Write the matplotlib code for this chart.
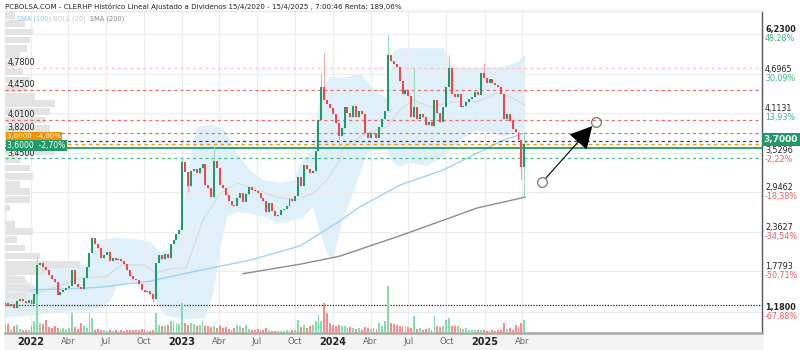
import numpy as np
import pandas as pd
import matplotlib
matplotlib.use("Agg")
import matplotlib.pyplot as plt
import matplotlib.dates as mdates
from matplotlib.patches import Rectangle

# weekly closes, Nov 2021 -> Apr 2025
first_open = 1.27
closes = [
    1.30, 1.26, 1.29, 1.24, 1.33, 1.37, 1.34, 1.31, 1.35, 1.29, 1.44,
    1.87, 1.90, 1.84, 1.79, 1.72, 1.66, 1.62, 1.42, 1.47, 1.50,
    1.53, 1.56, 1.80, 1.58, 1.55, 1.52, 1.68, 1.84, 2.05, 2.26,
    2.18, 2.12, 1.97, 2.02, 2.06, 1.93, 1.97, 1.94, 1.96, 1.93,
    1.88, 1.80, 1.70, 1.66, 1.64, 1.58, 1.50, 1.47, 1.48, 1.44,
    1.36, 1.90, 2.02, 1.96, 2.03, 1.97, 2.18, 2.24, 2.33, 2.38,
    3.39, 3.24, 3.04, 3.25, 3.28, 3.22, 3.30, 3.36, 3.05, 3.00,
    2.87, 3.40, 3.30, 3.05, 3.00, 2.90, 2.82, 2.76, 2.74, 2.86,
    2.93, 2.80, 2.92, 3.02, 2.98, 2.96, 2.93, 2.86, 2.82, 2.65,
    2.78, 2.66, 2.59, 2.61, 2.68, 2.70, 2.74, 2.85, 2.82, 2.88,
    3.17, 3.03, 3.35, 3.28, 3.22, 3.26, 3.55, 4.01, 4.50, 4.30,
    4.24, 4.18, 4.10, 3.96, 3.78, 3.89, 4.20, 4.12, 4.06, 4.22,
    4.05, 4.15, 4.10, 3.82, 3.75, 3.82, 3.80, 3.74, 3.90, 4.03,
    4.14, 4.97, 4.88, 4.84, 4.80, 4.58, 4.40, 4.45, 4.36, 4.06,
    4.20, 4.02, 4.10, 4.05, 3.94, 3.98, 3.92, 4.30, 4.12, 3.98,
    4.20, 4.50, 4.78, 4.40, 4.35, 4.40, 4.20, 4.22, 4.28, 4.32,
    4.35, 4.42, 4.38, 4.70, 4.63, 4.55, 4.62, 4.56, 4.52, 4.50,
    4.40, 4.02, 4.10, 4.00, 3.88, 3.84, 3.72, 3.31, 3.66,
]
volumes = [
    25, 28, 10, 22, 25, 12, 8, 10, 8, 20, 35,
    130, 30, 28, 38, 18, 15, 20, 15, 12, 15,
    10, 15, 60, 18, 12, 30, 20, 15, 60, 45,
    10, 12, 8, 10, 5, 8, 6, 10, 5, 8,
    6, 10, 8, 10, 8, 10, 12, 10, 8, 5,
    10, 60, 25, 22, 20, 25, 35, 35, 30, 28,
    90, 30, 25, 30, 28, 22, 25, 35, 20, 22,
    18, 20, 15, 20, 15, 18, 12, 10, 15, 25,
    22, 15, 25, 12, 10, 8, 12, 8, 10, 15,
    8, 5, 6, 5, 6, 5, 8, 6, 10, 8,
    40, 18, 25, 15, 20, 25, 35, 55, 35, 90,
    60, 30, 25, 20, 25, 22, 20, 15, 18, 15,
    12, 15, 10, 18, 15, 12, 15, 12, 30, 20,
    35, 140, 30, 28, 25, 20, 22, 20, 18, 15,
    50, 12, 15, 10, 12, 15, 10, 50, 20, 18,
    20, 40, 45, 20, 22, 20, 15, 12, 15, 10,
    8, 10, 8, 10, 8, 6, 8, 10, 6, 8,
    10, 30, 12, 15, 10, 25, 18, 30, 40,
]
# notable wicks (week index -> price)
wick_highs = {11: 1.98, 30: 2.28, 61: 3.46, 72: 3.64, 109: 4.70, 110: 5.00,
              132: 5.26, 141: 4.78, 153: 4.97, 165: 4.85, 179: 3.82}
wick_lows = {51: 1.32, 63: 2.95, 115: 3.62, 178: 3.12, 179: 2.87}

# bollinger (20)
boll_up_dates = ["2021-11-01", "2021-12-19", "2022-01-12", "2022-01-29", "2022-03-14",
                 "2022-05-13", "2022-06-18", "2022-07-24", "2022-09-11", "2022-10-17",
                 "2022-11-10", "2022-12-09", "2022-12-28", "2023-01-17", "2023-02-07",
                 "2023-03-11", "2023-04-11", "2023-05-15", "2023-06-15", "2023-07-17",
                 "2023-08-27", "2023-09-27", "2023-10-21", "2023-11-14", "2023-12-01",
                 "2023-12-25", "2024-01-26", "2024-03-07", "2024-04-17", "2024-05-11",
                 "2024-05-25", "2024-06-11", "2024-09-23", "2024-10-17", "2024-12-14",
                 "2025-02-15", "2025-03-21", "2025-04-09"]
boll_up = [1.79, 1.65, 1.56, 1.94, 1.88, 1.87, 2.24, 2.27, 2.25, 2.21,
           2.06, 2.13, 2.41, 3.27, 3.91, 3.94, 3.89, 3.52, 3.27, 3.12,
           3.08, 3.12, 3.42, 3.57, 4.41, 4.65, 4.63, 4.70, 4.41, 4.34,
           5.01, 5.07, 5.07, 4.79, 4.78, 4.79, 4.87, 4.97]
boll_low_dates = ["2021-11-01", "2021-12-31", "2022-03-14", "2022-05-25", "2022-07-12",
                  "2022-07-29", "2022-09-06", "2022-10-05", "2022-11-03", "2022-11-22",
                  "2023-01-09", "2023-02-27", "2023-03-18", "2023-04-04", "2023-04-21",
                  "2023-05-15", "2023-06-08", "2023-07-17", "2023-08-19", "2023-09-12",
                  "2023-10-21", "2023-11-14", "2023-12-01", "2023-12-17", "2024-01-01",
                  "2024-01-26", "2024-02-11", "2024-03-07", "2024-03-24", "2024-04-17",
                  "2024-05-11", "2024-05-25", "2024-06-11", "2024-07-05", "2024-08-15",
                  "2024-09-23", "2024-11-03", "2024-12-14", "2025-01-14", "2025-02-15",
                  "2025-03-21", "2025-04-09"]
boll_low = [1.09, 1.12, 1.17, 1.19, 1.32, 1.57, 1.62, 1.50, 1.28, 1.12,
            1.06, 1.09, 1.45, 2.13, 2.58, 2.65, 2.64, 2.58, 2.49, 2.50,
            2.58, 2.73, 2.34, 2.05, 1.94, 2.58, 2.80, 3.23, 3.52, 3.60,
            3.57, 3.38, 3.32, 3.38, 3.33, 3.46, 3.71, 3.86, 3.82, 3.76,
            3.82, 3.86]
boll_mid_dates = ["2021-11-01", "2022-01-24", "2022-03-14", "2022-05-06", "2022-06-30",
                  "2022-08-10", "2022-10-05", "2022-10-29", "2022-12-09", "2023-01-09",
                  "2023-01-21", "2023-02-21", "2023-04-04", "2023-05-15", "2023-07-02",
                  "2023-08-19", "2023-10-06", "2023-11-14", "2023-12-17", "2024-01-18",
                  "2024-01-26", "2024-03-24", "2024-05-11", "2024-06-11", "2024-07-12",
                  "2024-08-23", "2024-10-17", "2024-12-14", "2025-01-31", "2025-03-04",
                  "2025-04-09"]
boll_mid = [1.50, 1.47, 1.57, 1.68, 1.69, 1.87, 1.87, 1.75, 1.82, 1.82,
            1.99, 2.53, 2.93, 3.08, 2.98, 2.87, 2.83, 2.93, 3.12, 3.42,
            3.61, 3.82, 3.91, 4.16, 4.31, 4.20, 4.28, 4.28, 4.41, 4.35,
            4.23]

sma100_dates = ["2021-11-01", "2022-03-14", "2022-06-18", "2022-10-17", "2023-02-14",
                "2023-06-15", "2023-10-14", "2024-01-18", "2024-03-07", "2024-06-11",
                "2024-09-23", "2024-12-14", "2025-02-15", "2025-04-09"]
sma100 = [1.50, 1.51, 1.54, 1.63, 1.79, 1.94, 2.15, 2.52, 2.73, 3.05,
          3.27, 3.52, 3.71, 3.82]
sma200_dates = ["2023-05-29", "2023-10-14", "2024-01-18", "2024-06-11", "2024-12-14",
                "2025-04-09"]
sma200 = [1.74, 1.88, 2.00, 2.30, 2.71, 2.87]

# volume by price profile (left edge)
profile_levels = [5.55, 5.43, 5.31, 5.19, 5.07, 4.96, 4.84, 4.72, 4.60, 4.48,
                  4.36, 4.25, 4.13, 4.01, 3.89, 3.77, 3.65, 3.54, 3.42, 3.30,
                  3.18, 3.06, 2.95, 2.83, 2.71, 2.59, 2.47, 2.36, 2.24, 2.12,
                  2.00, 1.88, 1.77, 1.65, 1.53, 1.41, 1.29]
profile_volume = [10, 20, 28, 25, 22, 15, 12, 18, 25, 22,
                  30, 50, 45, 40, 45, 50, 40, 50, 15, 25,
                  28, 15, 25, 25, 5, 0, 10, 28, 12, 20,
                  35, 75, 40, 20, 25, 22, 15]

# horizontal levels
level_prices = [4.78, 4.45, 4.01, 3.82, 3.45]
level_colors = ["#f7c4c4", "#f06a6a", "#f06a6a", "#f06a6a", "#49bd8c"]
current_price = 3.70
support_price = 3.60
orange_price = 3.655
min_price = 1.27

right_ticks = [5.2796, 4.6965, 4.1131, 3.5296, 2.9462, 2.3627, 1.7793, 1.18]
right_values = ["6,2300", "4,6965", "4,1131", "3,5296", "2,9462", "2,3627", "1,7793", "1,1800"]
right_pcts = ["48,28%", "30,09%", "13,93%", "-2,22%", "-18,38%", "-34,54%", "-50,71%", "-67,88%"]

arrow_start = ("2025-05-20", 3.09)
arrow_end = ("2025-09-27", 3.98)

title = ("PCBOLSA.COM - CLERHP Histórico Lineal Ajustado a Dividenos "
         "15/4/2020 - 15/4/2025 , 7:00:46 Renta: 189,06%")

# ---------------------------------------------------------------
GREEN = "#1f9a68"
RED = "#f04848"

dates = pd.date_range("2021-11-01", periods=len(closes), freq="7D")
closes = np.array(closes)
opens = np.concatenate([[first_open], closes[:-1]])
up = closes >= opens
highs = np.maximum(opens, closes)
lows = np.minimum(opens, closes)
for k, v in wick_highs.items():
    highs[k] = v
for k, v in wick_lows.items():
    lows[k] = v

fig = plt.figure(figsize=(8, 3.5), dpi=100)
W, H = 800, 350
ax_l, ax_r, ax_t, ax_b = 5, 762, 11, 333
ax = fig.add_axes([ax_l / W, 1 - ax_b / H, (ax_r - ax_l) / W, (ax_b - ax_t) / H])
ax.set_facecolor("white")

xmin = pd.Timestamp("2021-10-31")
xmax = pd.Timestamp("2026-11-02")
ax.set_xlim(xmin, xmax)
ax.set_ylim(0.8635, 5.62)

# grid
quarters = pd.date_range("2022-01-01", "2025-04-01", freq="QS")
ax.set_xticks(quarters)
ax.set_yticks(right_ticks)
ax.grid(True, color="#ececec", lw=0.8, zorder=0)
ax.tick_params(length=0, labelleft=False, labelright=False)
labels = []
for q in quarters:
    labels.append(str(q.year) if q.month == 1 else {4: "Abr", 7: "Jul", 10: "Oct"}[q.month])
ax.set_xticklabels(labels)
for t, q in zip(ax.get_xticklabels(), quarters):
    if q.month == 1:
        t.set_fontweight("bold")
        t.set_color("#222222")
        t.set_fontsize(7)
    else:
        t.set_color("#666666")
        t.set_fontsize(6)
ax.tick_params(axis="x", pad=3)

# bollinger band + averages
bx = list(pd.to_datetime(boll_up_dates)) + list(pd.to_datetime(boll_low_dates))[::-1]
by = list(boll_up) + list(boll_low)[::-1]
ax.fill(bx, by, color="#dff0fb", lw=0, zorder=1)
ax.plot(pd.to_datetime(boll_mid_dates), boll_mid, color="#dadada", lw=0.9, zorder=2)
ax.plot(pd.to_datetime(sma100_dates), sma100, color="#9fd2f5", lw=1.0, zorder=2)
ax.plot(pd.to_datetime(sma200_dates), sma200, color="#8c8c8c", lw=1.0, zorder=2)

# volume profile on the left
ax.barh(profile_levels, np.array(profile_volume) / (ax_r - ax_l), height=0.1,
        left=0, color="#e3e3e3", transform=ax.get_yaxis_transform(), zorder=2)

# level lines
for p, c in zip(level_prices, level_colors):
    ax.axhline(p, color=c, lw=0.9, dashes=(2.5, 2.5), zorder=3)
ax.axhline(current_price, color="#2b2bd0", lw=0.9, dashes=(2.5, 2.5), zorder=3)
ax.axhline(orange_price, color="#f29a00", lw=1.0, dashes=(2.5, 2.5), zorder=3)
ax.axhline(support_price, color=GREEN, lw=1.3, zorder=3)
ax.axhline(min_price, color="#222222", lw=0.9, dashes=(1, 1.2), zorder=3)

# volume bars
vol_colors = np.where(up, "#86dbac", "#f58c8c")
ax.bar(dates, np.array(volumes) / (3.0 * (ax_b - ax_t)), width=4.5, bottom=0,
       color=vol_colors, transform=ax.get_xaxis_transform(), zorder=3)

# candles
wick_colors = np.where(up, "#9dd9bd", "#f5a9a9")
ax.vlines(dates, lows, highs, colors=wick_colors, lw=0.8, zorder=4)
ax.bar(dates, closes - opens, bottom=opens, width=4.8,
       color=np.where(up, GREEN, RED), lw=0, zorder=5)

# arrow drawing
a0 = (mdates.date2num(pd.Timestamp(arrow_start[0])), arrow_start[1])
a1 = (mdates.date2num(pd.Timestamp(arrow_end[0])), arrow_end[1])
ax.annotate("", xy=a1, xytext=a0,
            arrowprops=dict(arrowstyle="-|>,head_length=1.4,head_width=0.75",
                            color="black", lw=0.8, shrinkA=4, shrinkB=4), zorder=6)
for pt in (a0, a1):
    ax.plot(*pt, marker="o", ms=7, mfc="none", mec="#777777", mew=0.9, zorder=6)

# spines
for s in ("left", "top"):
    ax.spines[s].set_color("#e6e6e6")
    ax.spines[s].set_linewidth(0.8)
ax.spines["right"].set_color("#555555")
ax.spines["right"].set_linewidth(1.0)
ax.spines["bottom"].set_color("#a8a8a8")
ax.spines["bottom"].set_linewidth(1.8)

# x label strip background
fig.patches.append(Rectangle((ax_l / W, 0), (ax_r - ax_l) / W, (H - ax_b) / H,
                             transform=fig.transFigure, color="#f4f4f4", zorder=-1))

# right labels
ytr = ax.get_yaxis_transform()
for p, v, pc in zip(right_ticks, right_values, right_pcts):
    bold = v in ("6,2300", "1,1800")
    off = -0.03 if v == "3,5296" else 0
    ax.text(1.004, p + off, v, transform=ytr, fontsize=5.8, color="#222222",
            fontweight="bold" if bold else "normal", va="bottom", ha="left", clip_on=False)
    ax.text(1.004, p + off, pc, transform=ytr, fontsize=5.8,
            color="#3db87f" if not pc.startswith("-") else "#f25c5c",
            va="top", ha="left", clip_on=False)
ax.text(1.002, current_price + 0.02, "3,7000", transform=ytr, fontsize=6.5, color="white",
        fontweight="bold", va="center", ha="left", clip_on=False, zorder=7,
        bbox=dict(boxstyle="square,pad=0.2", fc=GREEN, ec="none"))

# left labels
for p in level_prices:
    off = -0.005 if p == 3.45 else 0.02
    ax.text(0.003, p + off, f"{p:.4f}".replace(".", ","), transform=ytr, fontsize=5.8,
            color="#222222", va="bottom", ha="left", zorder=7)
ax.text(0.003, support_price + 0.175, "3,6000  -4,00%", transform=ytr, fontsize=5.0,
        color="white", va="center", ha="left", zorder=7,
        bbox=dict(boxstyle="square,pad=0.12", fc="#f39200", ec="none"))
ax.text(0.003, support_price + 0.035, "3,6000  -2,70%", transform=ytr, fontsize=5.5,
        color="white", va="center", ha="left", zorder=8,
        bbox=dict(boxstyle="square,pad=0.15", fc=GREEN, ec="none"))

# title and legend
fig.text(5 / W, 1 - 6 / H, title, fontsize=5.1, color="#222222", va="center", ha="left")
fig.text(17 / W, 1 - 19 / H, "SMA (100)", fontsize=4.8, color="#86c6f0",
         va="center", ha="left")
fig.text(53 / W, 1 - 19 / H, "BOLL (20)", fontsize=4.8, color="#c8c8c8",
         va="center", ha="left")
fig.text(90 / W, 1 - 19 / H, "SMA (200)", fontsize=4.8, color="#888888",
         va="center", ha="left")

fig.savefig("out.png", dpi=100)
